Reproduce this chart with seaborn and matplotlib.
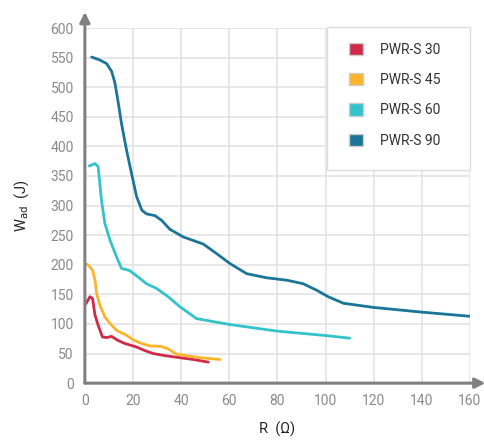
import numpy as np
import pandas as pd
import seaborn as sns
import matplotlib.pyplot as plt
from matplotlib.patches import Patch, Rectangle

# data
r_30 = [0.4, 2.1, 3.2, 4.2, 5.5, 7.3, 9.0, 11.1, 13.8, 16.6, 21.5, 24.9, 28.4, 34.0, 39.5, 45.0, 51.3]
w_30 = [134, 146, 143, 115, 98, 78, 77, 79, 72, 67, 61, 55, 50, 46, 43, 40, 35.5]

r_45 = [1.0, 3.2, 4.2, 4.9, 6.2, 8.3, 10.4, 13.2, 17.3, 20.1, 23.5, 27.0, 31.8, 34.6, 38.1, 47.8, 56.1]
w_45 = [201, 191, 174, 151, 132, 112, 101, 89, 81, 73, 67, 63, 62, 58, 49, 43, 40]

r_60 = [1.8, 4.2, 5.5, 6.9, 8.3, 10.4, 13.2, 15.2, 18.7, 22.2, 25.6, 29.8, 34.6, 39.5,
        43.0, 46.4, 60.3, 79.7, 101.1, 110.0]
w_60 = [367, 371, 366, 309, 270, 242, 213, 194, 190, 179, 168, 160, 146, 129,
        119, 109, 99, 88, 80, 76]

r_90 = [2.8, 6.2, 9.0, 11.1, 12.5, 13.9, 15.2, 17.3, 19.4, 21.5, 23.7, 25.6, 29.1, 31.9,
        35.3, 40.9, 49.2, 54.7, 60.3, 67.2, 75.5, 83.8, 90.7, 96.3, 101.1, 107.4, 119.8,
        139.9, 160.0]
w_90 = [551, 546, 540, 527, 507, 473, 439, 394, 354, 315, 292, 286, 283, 275,
        260, 247, 235, 219, 202, 185, 178, 174, 168, 157, 146, 135, 128,
        120, 113]

names = ['PWR-S 30', 'PWR-S 45', 'PWR-S 60', 'PWR-S 90']
colors = ['#d02a48', '#fbb42c', '#33c3cb', '#1a7598']
x_ticks = list(range(0, 161, 20))
y_ticks = list(range(0, 601, 50))

frames = []
for n, r, w in zip(names, [r_30, r_45, r_60, r_90], [w_30, w_45, w_60, w_90]):
    frames.append(pd.DataFrame({'R': r, 'W': w, 'model': n}))
df = pd.concat(frames, ignore_index=True)

sns.set_style('white')
plt.rcParams['font.family'] = ['Roboto', 'DejaVu Sans']

fig = plt.figure(figsize=(4.85, 4.45), dpi=100)
ax = fig.add_axes([0.175, 0.139, 0.794, 0.798])

sns.lineplot(data=df, x='R', y='W', hue='model', palette=colors, sort=False,
             linewidth=2.0, legend=False, ax=ax)
for ln in ax.lines:
    ln.set_solid_joinstyle('round')
    ln.set_solid_capstyle('round')

ax.set_xlim(0, 160)
ax.set_ylim(0, 600)
ax.set_xticks(x_ticks)
ax.set_yticks(y_ticks)
ax.grid(True, color='#e3e3e3', linewidth=1.2)
ax.set_axisbelow(True)
for s in ax.spines.values():
    s.set_visible(False)
ax.tick_params(length=0, labelsize=10, labelcolor='#8a8a8a', pad=8)

# axes with arrow heads
arrow = dict(arrowstyle='-|>,head_length=0.6,head_width=0.3', color='#808080', lw=2.2,
             shrinkA=0, shrinkB=0)
ax.annotate('', xy=(1.04, 0), xytext=(0, 0), xycoords='axes fraction',
            textcoords='axes fraction', arrowprops=arrow, annotation_clip=False)
ax.annotate('', xy=(0, 1.045), xytext=(0, 0), xycoords='axes fraction',
            textcoords='axes fraction', arrowprops=arrow, annotation_clip=False)

ax.set_xlabel('R  (Ω)', fontsize=10.5, color='#222222', labelpad=10)
ax.set_ylabel(r'W$_{\mathrm{ad}}$  (J)', fontsize=10.5, color='#222222', labelpad=14)

# legend box
ax.add_patch(Rectangle((0.629, 0.6), 0.371, 0.403, transform=ax.transAxes,
                       facecolor='white', edgecolor='#dddddd', lw=1.0,
                       zorder=3, clip_on=False))
handles = [Patch(facecolor=c, edgecolor='#cccccc', label=n) for c, n in zip(colors, names)]
leg = ax.legend(handles=handles, loc='upper left', bbox_to_anchor=(0.686, 0.959),
                borderaxespad=0, borderpad=0, fontsize=10, handlelength=1.0,
                handleheight=1.0, handletextpad=1.2, labelspacing=1.18, frameon=False)
leg.set_zorder(5)
for t in leg.get_texts():
    t.set_color('#333333')

fig.savefig('out.png', dpi=100)
